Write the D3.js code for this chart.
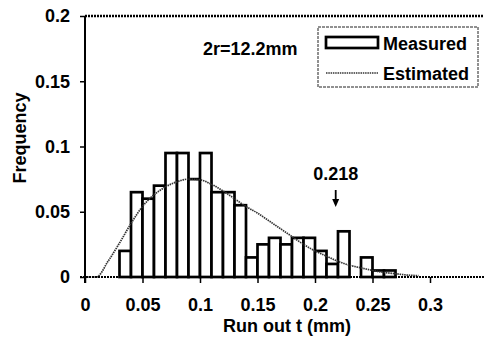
<!DOCTYPE html>
<html>
<head>
<meta charset="utf-8">
<script src="https://cdn.jsdelivr.net/npm/d3@7"></script>
<style>
  body { margin: 0; background: #fff; }
  text { font-family: "Liberation Sans", Arial, sans-serif; font-weight: bold; fill: #000; }
</style>
</head>
<body>
<div id="chart"></div>
<script>
/*------------------------------
 DATA
 ----------------------------*/
// histogram bins (left edge, width 0.01)
const binStarts = [0.03, 0.04, 0.05, 0.06, 0.07, 0.08, 0.09, 0.10, 0.11, 0.12, 0.13, 0.14,
                   0.15, 0.16, 0.17, 0.18, 0.19, 0.20, 0.21, 0.22, 0.23, 0.24, 0.25, 0.26];
const measured  = [0.02, 0.065, 0.06, 0.07, 0.095, 0.095, 0.075, 0.095, 0.065, 0.065, 0.055, 0.015,
                   0.025, 0.03, 0.025, 0.03, 0.03, 0.02, 0.01, 0.035, 0, 0.015, 0.005, 0.005];
const BIN_WIDTH = 0.01;

// estimated curve
const estT   = [0, 0.01, 0.02, 0.03, 0.04, 0.05, 0.06, 0.07, 0.08, 0.09, 0.10, 0.11, 0.12, 0.13, 0.14,
                0.15, 0.16, 0.17, 0.18, 0.19, 0.20, 0.21, 0.22, 0.23, 0.24, 0.25, 0.26, 0.27, 0.28, 0.29];
const estVal = [0, 0, 0.012, 0.026, 0.041, 0.054, 0.063, 0.069, 0.073, 0.075, 0.0745, 0.071, 0.066, 0.060, 0.054,
                0.049, 0.043, 0.037, 0.031, 0.025, 0.020, 0.016, 0.012, 0.009, 0.007, 0.005, 0.0035, 0.0025, 0.0015, 0.001];

const xTicks = [0, 0.05, 0.1, 0.15, 0.2, 0.25, 0.3];
const yTicks = [0, 0.05, 0.1, 0.15, 0.2];
const MARK_T = 0.218;
const SIZE_LABEL = "2r=12.2mm";

/*------------------------------
 SETUP
 ----------------------------*/
const SVG_WIDTH = 484;
const SVG_HEIGHT = 338;
const FONT_SIZE = 18;

const svg = d3.select("#chart").append("svg")
    .attr("width", SVG_WIDTH).attr("height", SVG_HEIGHT);

const x = d3.scaleLinear().domain([0, 0.35]).range([85, 487.5]);
const y = d3.scaleLinear().domain([0, 0.2]).range([277, 16]);

// top frame line (dotted)
svg.append("line")
    .attr("x1", x(0)).attr("x2", SVG_WIDTH)
    .attr("y1", y(0.2)).attr("y2", y(0.2))
    .attr("stroke", "#000").attr("stroke-width", 2.5)
    .attr("stroke-dasharray", "2,1");

/*------------------------------
 BARS
 ----------------------------*/
const bars = binStarts.map((t, i) => ({t: t, v: measured[i]}));

svg.append("g").selectAll("rect")
    .data(bars.filter(d => d.v > 0))
    .enter()
    .append("rect")
    .attr("x", d => x(d.t))
    .attr("y", d => y(d.v))
    .attr("width", d => x(d.t + BIN_WIDTH) - x(d.t))
    .attr("height", d => y(0) - y(d.v))
    .attr("fill", "#fff")
    .attr("stroke", "#000")
    .attr("stroke-width", 2.7);

/*------------------------------
 ESTIMATED CURVE
 ----------------------------*/
const line = d3.line()
    .x((d, i) => x(estT[i]))
    .y(d => y(d))
    .curve(d3.curveMonotoneX);

svg.append("path")
    .datum(estVal)
    .attr("d", line)
    .attr("fill", "none")
    .attr("stroke", "#333")
    .attr("stroke-width", 1.7)
    .attr("stroke-dasharray", "1.5,0.8");

/*------------------------------
 AXES
 ----------------------------*/
const fmt = d => d === 0 ? "0" : String(+d.toFixed(2));
const bottomAxis = d3.axisBottom(x).tickValues(xTicks).tickSize(6).tickPadding(15).tickFormat(fmt);
const leftAxis = d3.axisLeft(y).tickValues(yTicks).tickSize(5).tickPadding(10).tickFormat(fmt);

const xAxis = svg.append("g")
    .attr("transform", `translate(0, ${y(0)})`)
    .call(bottomAxis);
xAxis.select(".domain").remove();
xAxis.append("line")
    .attr("x1", x(0) - 5).attr("x2", SVG_WIDTH)
    .attr("stroke", "#000").attr("stroke-width", 2)
    .attr("stroke-dasharray", "2,1");

const yAxis = svg.append("g")
    .attr("transform", `translate(${x(0)}, 0)`)
    .call(leftAxis);
yAxis.select(".domain").remove();
yAxis.append("line")
    .attr("y1", y(0.2)).attr("y2", y(0) + 6)
    .attr("stroke", "#000").attr("stroke-width", 2);

[xAxis, yAxis].forEach(a => {
    a.selectAll(".tick line").attr("stroke", "#000").attr("stroke-width", 1.5);
    a.selectAll(".tick text")
        .attr("font-family", "Liberation Sans, Arial, sans-serif").attr("font-weight", "bold")
        .attr("font-size", FONT_SIZE).attr("fill", "#000");
});

// axis titles
svg.append("text")
    .attr("x", 287).attr("y", 332)
    .attr("text-anchor", "middle").attr("font-size", FONT_SIZE)
    .text("Run out t (mm)");

svg.append("text")
    .attr("transform", "translate(26, 138) rotate(-90)")
    .attr("text-anchor", "middle").attr("font-size", FONT_SIZE)
    .text("Frequency");

/*------------------------------
 ANNOTATIONS
 ----------------------------*/
svg.append("text")
    .attr("x", 203).attr("y", 55)
    .attr("font-size", FONT_SIZE)
    .text(SIZE_LABEL);

svg.append("text")
    .attr("x", x(MARK_T)).attr("y", 180)
    .attr("text-anchor", "middle").attr("font-size", FONT_SIZE)
    .text(String(MARK_T));

svg.append("line")
    .attr("x1", x(MARK_T)).attr("x2", x(MARK_T))
    .attr("y1", 190).attr("y2", 204)
    .attr("stroke", "#000").attr("stroke-width", 1.8);
svg.append("path")
    .attr("d", `M${x(MARK_T) - 3.5},199 L${x(MARK_T)},207 L${x(MARK_T) + 3.5},199 Z`)
    .attr("fill", "#000");

/*------------------------------
 LEGEND
 ----------------------------*/
const legend = svg.append("g").attr("transform", "translate(318, 27)");
legend.append("rect")
    .attr("width", 160).attr("height", 60)
    .attr("fill", "#fff").attr("stroke", "#222").attr("stroke-width", 1)
    .attr("stroke-dasharray", "3,1");
legend.append("rect")
    .attr("x", 8).attr("y", 10).attr("width", 52).attr("height", 11)
    .attr("fill", "#fff").attr("stroke", "#000").attr("stroke-width", 2.7);
legend.append("text")
    .attr("x", 65).attr("y", 23).attr("font-size", FONT_SIZE)
    .text("Measured");
legend.append("line")
    .attr("x1", 8).attr("x2", 60).attr("y1", 46).attr("y2", 46)
    .attr("stroke", "#333").attr("stroke-width", 1.7)
    .attr("stroke-dasharray", "1.5,0.8");
legend.append("text")
    .attr("x", 65).attr("y", 53).attr("font-size", FONT_SIZE)
    .text("Estimated");
</script>
</body>
</html>
